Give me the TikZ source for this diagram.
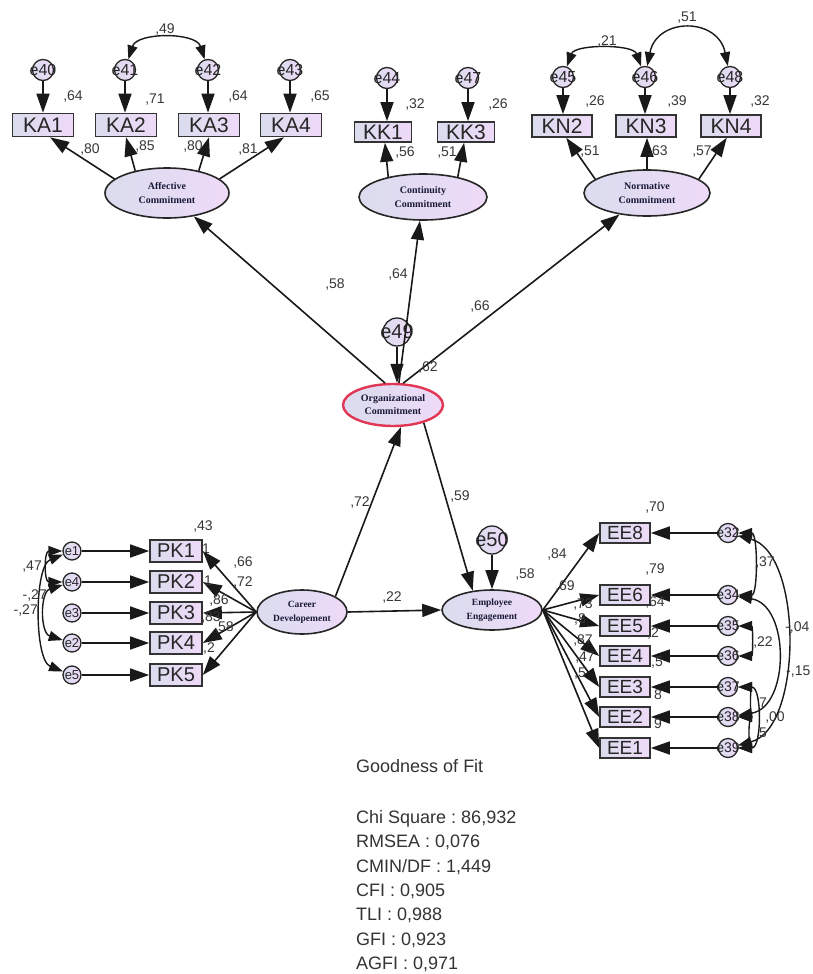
\documentclass[tikz,border=0pt]{standalone}
\usepackage{fontspec}
\setmainfont{Liberation Sans}
\newfontfamily\serifbf{Liberation Serif}
\usetikzlibrary{arrows.meta,shapes.geometric}
\frenchspacing
\definecolor{fillL}{RGB}{218,220,238}
\definecolor{fillR}{RGB}{238,218,248}
\definecolor{lblc}{RGB}{55,55,55}
\definecolor{ocred}{RGB}{225,55,85}
\definecolor{navy}{RGB}{25,25,55}
\newcommand{\zwbox}[1]{\makebox[0pt]{#1}}
\begin{document}
\begin{tikzpicture}[x=1pt,y=-1pt,
 box/.style={draw=black!80, line width=1.6pt, left color=fillL, right color=fillR, inner sep=0pt, text=black!85},
 topbox/.style={box, minimum width=61pt, minimum height=23pt, font=\fontsize{21}{21}\selectfont},
 kkbox/.style={box, minimum width=57pt, minimum height=20pt, font=\fontsize{21}{21}\selectfont},
 knbox/.style={box, minimum width=60pt, minimum height=22pt, font=\fontsize{21}{21}\selectfont},
 pkbox/.style={box, minimum width=52pt, minimum height=22pt, font=\fontsize{20}{20}\selectfont},
 eebox/.style={box, minimum width=50pt, minimum height=20pt, font=\fontsize{19}{19}\selectfont},
 lat/.style={ellipse, draw=black!85, line width=1.6pt, left color=fillL, right color=fillR, inner sep=0pt, align=center, text=navy, font=\serifbf\bfseries\fontsize{10}{14}\selectfont},
 err/.style={circle, draw=black!85, line width=1.3pt, left color=fillL, right color=fillR, inner sep=0pt, text=black!85},
 errtop/.style={err, minimum size=21pt, font=\fontsize{16}{16}\selectfont},
 errbig/.style={err, minimum size=28pt, font=\fontsize{20}{20}\selectfont},
 errpk/.style={err, minimum size=18pt, font=\fontsize{13}{13}\selectfont},
 erree/.style={err, minimum size=19pt, font=\fontsize{14}{14}\selectfont},
 lab/.style={text=lblc, inner sep=0pt, font=\fontsize{14}{14}\selectfont},
 arr/.style={-{Triangle[length=19pt,width=13pt]}, line width=1.6pt, black!90},
 cov/.style={{Triangle[length=14pt,width=10pt]}-{Triangle[length=14pt,width=10pt]}, line width=1.4pt, black!90},
 gof/.style={anchor=base west, inner sep=0pt, text=black!80, font=\fontsize{18}{18}\selectfont},
]
\fill[white] (0,0) rectangle (812,974);
\useasboundingbox (0,0) rectangle (812,974);

% ---------- top measurement models ----------
\node[topbox] (KA1) at (43,125) {KA1};
\node[topbox] (KA2) at (126,125) {KA2};
\node[topbox] (KA3) at (209,125) {KA3};
\node[topbox] (KA4) at (291,125) {KA4};
\node[kkbox] (KK1) at (383,132) {KK1};
\node[kkbox] (KK3) at (466,132) {KK3};
\node[knbox] (KN2) at (562,126) {KN2};
\node[knbox] (KN3) at (646,126) {KN3};
\node[knbox] (KN4) at (731,126) {KN4};

\node[errtop] (e40) at (43,70) {\zwbox{e40}};
\node[errtop] (e41) at (125,70) {\zwbox{e41}};
\node[errtop] (e42) at (208,70) {\zwbox{e42}};
\node[errtop] (e43) at (290,70) {\zwbox{e43}};
\node[errtop] (e44) at (387,78) {\zwbox{e44}};
\node[errtop] (e47) at (468,78) {\zwbox{e47}};
\node[errtop] (e45) at (563,77) {\zwbox{e45}};
\node[errtop] (e46) at (645,77) {\zwbox{e46}};
\node[errtop] (e48) at (730,77) {\zwbox{e48}};

\node[lat, minimum width=124pt, minimum height=50pt] (AC) at (167,193) {Affective\\Commitment};
\node[lat, minimum width=128pt, minimum height=46pt] (CC) at (423,197) {Continuity\\Commitment};
\node[lat, minimum width=126pt, minimum height=46pt] (NC) at (647,193) {Normative\\Commitment};

% ---------- structural part ----------
\node[lat, draw=ocred, line width=2.4pt, minimum width=100pt, minimum height=42pt, font=\serifbf\bfseries\fontsize{10}{13}\selectfont] (OC) at (393,405) {Organizational\\Commitment};
\node[errbig] (e49) at (397,332) {\zwbox{e49}};
\node[lat, minimum width=90pt, minimum height=44pt, font=\serifbf\bfseries\fontsize{9.5}{14}\selectfont] (CD) at (302,612) {Career\\Developement};
\node[lat, minimum width=100pt, minimum height=40pt, font=\serifbf\bfseries\fontsize{9.5}{14}\selectfont] (EEng) at (492,610) {Employee\\Engagement};
\node[errbig] (e50) at (492,540) {\zwbox{e50}};

% ---------- PK ----------
\node[pkbox] (PK1) at (176,551) {PK1};
\node[pkbox] (PK2) at (176,582) {PK2};
\node[pkbox] (PK3) at (176,613) {PK3};
\node[pkbox] (PK4) at (176,643) {PK4};
\node[pkbox] (PK5) at (176,675) {PK5};
\node[errpk] (pe1) at (72,551) {\zwbox{e1}};
\node[errpk] (pe2) at (72,582) {\zwbox{e4}};
\node[errpk] (pe3) at (72,613) {\zwbox{e3}};
\node[errpk] (pe4) at (72,643) {\zwbox{e2}};
\node[errpk] (pe5) at (72,675) {\zwbox{e5}};

% ---------- EE ----------
\node[eebox] (EE8) at (625,533) {EE8};
\node[eebox] (EE6) at (625,595) {EE6};
\node[eebox] (EE5) at (625,626) {EE5};
\node[eebox] (EE4) at (625,656) {EE4};
\node[eebox] (EE3) at (625,687) {EE3};
\node[eebox] (EE2) at (625,717) {EE2};
\node[eebox] (EE1) at (625,748) {EE1};
\node[erree] (ce8) at (728,533) {\zwbox{e32}};
\node[erree] (ce6) at (728,595) {\zwbox{e34}};
\node[erree] (ce5) at (728,626) {\zwbox{e35}};
\node[erree] (ce4) at (728,656) {\zwbox{e36}};
\node[erree] (ce3) at (728,687) {\zwbox{e37}};
\node[erree] (ce2) at (728,717) {\zwbox{e38}};
\node[erree] (ce1) at (728,748) {\zwbox{e39}};

% ---------- connectors ----------
\foreach \e/\b in {e40/KA1,e41/KA2,e42/KA3,e43/KA4,e44/KK1,e47/KK3,e45/KN2,e46/KN3,e48/KN4}
  \draw[arr] (\e) -- (\e |- \b.north);
\draw[arr] (AC.165) -- (KA1.-60);
\draw[arr] (AC.145) -- (KA2.south);
\draw[arr] (AC.35) -- (KA3.south);
\draw[arr] (AC.15) -- (KA4.-120);
\draw[arr] (CC.150) -- (KK1.-80);
\draw[arr] (CC.30) -- (KK3.-100);
\draw[arr] (NC.165) -- (KN2.-70);
\draw[arr] (NC.north) -- (NC.north |- KN3.south);
\draw[arr] (NC.15) -- (KN4.-110);

\draw[arr] (OC.110) -- (AC);
\draw[arr] (OC.75) -- (CC);
\draw[arr] (OC.65) -- (NC);
\draw[arr] (e49) -- (e49 |- OC.north);
\draw[arr] (CD.25) -- (OC.-70);
\draw[arr] (OC.-30) -- (EEng.135);
\draw[arr] (CD.east) -- (EEng.west);
\draw[arr] (e50) -- (e50 |- EEng.north);

\foreach \i in {1,...,5} {
  \draw[arr] (pe\i) -- (PK\i);
  \draw[arr] (CD.west) -- (PK\i.east);
}
\foreach \i in {8,6,5,4,3,2,1} {
  \draw[arr] (ce\i) -- (EE\i);
  \draw[arr] (EEng.east) -- (EE\i.west);
}

% covariances
\draw[cov] (e41) .. controls +(12,-38) and +(-12,-38) .. (e42);
\draw[cov] (e45) .. controls +(12,-33) and +(-12,-33) .. (e46);
\draw[cov] (e46) .. controls +(12,-60) and +(-12,-60) .. (e48);
\draw[cov] (pe1) .. controls +(-28,0) and +(-28,0) .. (pe2);
\draw[cov] (pe2) .. controls +(-32,10) and +(-32,-10) .. (pe4);
\draw[cov] (pe1) .. controls +(-38,15) and +(-38,-15) .. (pe5);
\draw[cov] (ce8) .. controls +(30,0) and +(30,0) .. (ce6);
\draw[cov] (ce8) .. controls +(75,20) and +(75,-20) .. (ce1);
\draw[cov] (ce6) .. controls +(62,10) and +(62,-10) .. (ce2);
\draw[cov] (ce5) .. controls +(25,0) and +(25,0) .. (ce4);
\draw[cov] (ce3) .. controls +(22,0) and +(22,0) .. (ce2);
\draw[cov] (ce3) .. controls +(34,0) and +(34,0) .. (ce1);
\draw[cov] (ce2) .. controls +(20,0) and +(20,0) .. (ce1);

% ---------- labels ----------
\foreach \p/\t [count=\k] in {
 {(73,97)}/{,64}, {(155,100)}/{,71}, {(238,97)}/{,64}, {(320,97)}/{,65},
 {(90,150)}/{,80}, {(145,147)}/{,85}, {(193,147)}/{,80}, {(248,150)}/{,81},
 {(165,30)}/{,49},
 {(415,105)}/{,32}, {(498,105)}/{,26}, {(405,153)}/{,56}, {(447,153)}/{,51},
 {(607,42)}/{,21}, {(687,18)}/{,51},
 {(595,102)}/{,26}, {(677,102)}/{,39}, {(760,102)}/{,32},
 {(590,152)}/{,51}, {(658,152)}/{,63}, {(702,152)}/{,57},
 {(335,285)}/{,58}, {(398,275)}/{,64}, {(480,307)}/{,66}, {(428,368)}/{,62},
 {(360,503)}/{,72}, {(460,497)}/{,59}, {(392,598)}/{,22}, {(525,575)}/{,58},
 {(203,527)}/{,43}, {(243,563)}/{,66}, {(243,583)}/{,72}, {(219,601)}/{,86},
 {(211,618)}/{,83}, {(224,628)}/{,58}, {(209,648)}/{,2}, {(206,549)}/{1}, {(208,581)}/{1},
 {(655,508)}/{,70}, {(557,555)}/{,84}, {(655,570)}/{,79}, {(565,587)}/{,69},
 {(583,605)}/{,73}, {(580,619)}/{,8}, {(583,640)}/{,87}, {(585,658)}/{,47}, {(580,674)}/{,5},
 {(655,603)}/{,64}, {(653,633)}/{,2}, {(657,663)}/{,5}, {(658,695)}/{8}, {(658,724)}/{9},
 {(765,563)}/{,37}, {(763,642)}/{,22}, {(763,703)}/{7}, {(775,717)}/{,00}, {(763,733)}/{5}}
  \node[lab] (lb\k) at \p {\t};
\node[lab, anchor=east] (lL1) at (42,567) {,47};
\node[lab, anchor=east] (lL2) at (47,596) {-,27};
\node[lab, anchor=east] (lL3) at (38,611) {-,27};
\node[lab, anchor=west] (lR1) at (785,628) {-,04};
\node[lab, anchor=west] (lR2) at (786,672) {-,15};

% ---------- goodness of fit ----------
\node[gof] (g0) at (356,772) {Goodness of Fit};
\node[gof] (g1) at (356,823) {Chi Square : 86,932};
\node[gof] (g2) at (356,847.5) {RMSEA : 0,076};
\node[gof] (g3) at (356,872) {CMIN/DF : 1,449};
\node[gof] (g4) at (356,896) {CFI : 0,905};
\node[gof] (g5) at (356,920.5) {TLI : 0,988};
\node[gof] (g6) at (356,945) {GFI : 0,923};
\node[gof] (g7) at (356,969) {AGFI : 0,971};
\end{tikzpicture}
\end{document}
